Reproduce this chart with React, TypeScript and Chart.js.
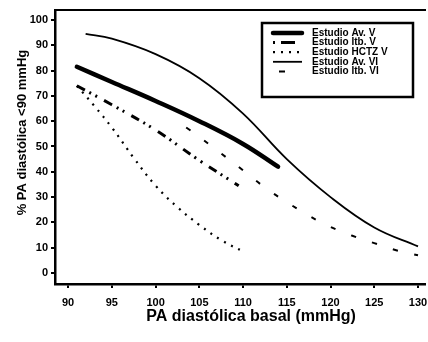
import { useEffect, useRef } from 'react';
import { Chart, registerables } from 'chart.js';

Chart.register(...registerables);

const SERIES_LABELS = ['Estudio Av. V', 'Estudio Itb. V', 'Estudio HCTZ V', 'Estudio Av. VI', 'Estudio Itb. VI'];

const AV_V_X = [91, 95, 100, 105, 110, 114];
const AV_V_Y = [81.5, 75.5, 68, 60, 51, 42];

const ITB_V_X = [91, 95, 100, 105, 109.5];
const ITB_V_Y = [74, 66.5, 56.5, 44.5, 34.5];

const HCTZ_V_X = [91, 93, 95, 97.5, 100, 102.5, 105, 107.5, 110];
const HCTZ_V_Y = [74, 66, 57.5, 45.5, 34.5, 26, 19, 13, 8.5];

const AV_VI_X = [92, 95, 100, 105, 110, 115, 120, 125, 130];
const AV_VI_Y = [94.5, 92.6, 86.5, 77, 63, 45, 30, 18, 10.5];

const ITB_VI_X = [103.5, 105, 107.5, 110, 112.5, 115, 117.5, 120, 122.5, 125, 127.5, 130];
const ITB_VI_Y = [57.5, 53.8, 47.2, 40.6, 33.8, 28, 22.7, 18.2, 14.7, 11.8, 9, 7];

const X_TICKS = [90, 95, 100, 105, 110, 115, 120, 125, 130];
const Y_TICKS = [0, 10, 20, 30, 40, 50, 60, 70, 80, 90, 100];

const X_TITLE = 'PA diastólica basal (mmHg)';
const Y_TITLE = '% PA diastólica <90 mmHg';

const FONT = '"Liberation Sans", Arial, Helvetica, sans-serif';

const pts = (xs: number[], ys: number[]) => xs.map((x, i) => ({ x, y: ys[i] }));

const legendBox = {
  id: 'legendBox',
  afterDatasetsDraw(chart: any) {
    const { ctx, chartArea } = chart;
    const w = 151;
    const h = 74;
    const x0 = chartArea.right - 12 - w;
    const y0 = chartArea.top + 13;
    ctx.save();
    ctx.fillStyle = '#fff';
    ctx.fillRect(x0, y0, w, h);
    ctx.lineWidth = 2.5;
    ctx.strokeStyle = '#000';
    ctx.setLineDash([]);
    ctx.strokeRect(x0, y0, w, h);
    chart.data.datasets.forEach((ds: any, i: number) => {
      const y = y0 + 10 + i * 9.6;
      ctx.beginPath();
      ctx.setLineDash(ds.legendDash || ds.borderDash || []);
      ctx.lineDashOffset = ds.legendDashOffset || 0;
      ctx.lineWidth = ds.borderWidth;
      ctx.lineCap = ds.borderCapStyle || 'butt';
      ctx.strokeStyle = '#000';
      ctx.moveTo(x0 + 11, y);
      ctx.lineTo(x0 + 40, y);
      ctx.stroke();
      ctx.setLineDash([]);
      ctx.fillStyle = '#000';
      ctx.font = `bold 10px ${FONT}`;
      ctx.textBaseline = 'middle';
      ctx.textAlign = 'left';
      ctx.fillText(ds.label, x0 + 50, y);
    });
    ctx.restore();
  },
};

export default function App() {
  const ref = useRef<HTMLCanvasElement | null>(null);

  useEffect(() => {
    if (!ref.current) return;
    Chart.defaults.font.family = FONT;
    Chart.defaults.color = '#000';
    const common = {
      borderColor: '#000',
      backgroundColor: '#000',
      pointRadius: 0,
      fill: false,
      tension: 0.4,
    };
    const noPad = (s: any) => { s.paddingLeft = 0; s.paddingRight = 0; s.paddingTop = 0; s.paddingBottom = 0; };
    const chart = new Chart(ref.current, {
      type: 'line',
      data: {
        datasets: [
          { ...common, label: SERIES_LABELS[0], data: pts(AV_V_X, AV_V_Y), borderWidth: 4.5, borderCapStyle: 'round' },
          { ...common, label: SERIES_LABELS[1], data: pts(ITB_V_X, ITB_V_Y), borderWidth: 3, borderDash: [9, 5, 2, 5, 2, 8], legendDash: [2, 6, 14, 20] },
          { ...common, label: SERIES_LABELS[2], data: pts(HCTZ_V_X, HCTZ_V_Y), borderWidth: 2.2, borderDash: [2, 6] },
          { ...common, label: SERIES_LABELS[3], data: pts(AV_VI_X, AV_VI_Y), borderWidth: 1.8 },
          { ...common, label: SERIES_LABELS[4], data: pts(ITB_VI_X, ITB_VI_Y), borderWidth: 2, borderDash: [5, 17], legendDash: [0, 6, 6, 40] },
        ] as any,
      },
      options: {
        animation: false,
        responsive: true,
        maintainAspectRatio: false,
        layout: { padding: { left: 0, right: 3, top: 10, bottom: 0 } },
        plugins: { legend: { display: false }, tooltip: { enabled: false } },
        scales: {
          x: {
            type: 'linear',
            position: 'bottom',
            min: 88.5,
            max: 130.8,
            afterFit: (s: any) => { s.height = 58; noPad(s); },
            afterBuildTicks: (s: any) => { s.ticks = X_TICKS.map((v) => ({ value: v })); },
            grid: { drawOnChartArea: false, drawTicks: true, tickLength: 4, color: '#000', lineWidth: 2 },
            border: { display: true, color: '#000', width: 2.5 },
            ticks: { font: { size: 11, weight: 'bold' }, color: '#000', padding: 8, maxRotation: 0 },
            title: { display: true, text: '     ' + X_TITLE, font: { size: 16, weight: 'bold' }, color: '#000', padding: { top: 0, bottom: 16 } },
          },
          x2: {
            type: 'linear',
            position: 'top',
            min: 88.5,
            max: 130.8,
            afterFit: (s: any) => { s.height = 0; noPad(s); },
            grid: { drawOnChartArea: false, drawTicks: false },
            border: { display: true, color: '#000', width: 2 },
            ticks: { display: false },
          },
          y: {
            type: 'linear',
            min: -4.35,
            max: 103.95,
            afterFit: (s: any) => { s.width = 55; noPad(s); },
            afterBuildTicks: (s: any) => { s.ticks = Y_TICKS.map((v) => ({ value: v })); },
            grid: { drawOnChartArea: false, drawTicks: true, tickLength: 4, color: '#000', lineWidth: 2 },
            border: { display: true, color: '#000', width: 2.5 },
            ticks: { font: { size: 11, weight: 'bold' }, color: '#000', padding: 3 },
            title: { display: true, text: '        ' + Y_TITLE, font: { size: 13, weight: 'bold' }, color: '#000', padding: { top: 15, bottom: 0 } },
          },
        },
      } as any,
      plugins: [legendBox],
    });
    return () => chart.destroy();
  }, []);

  return (
    <div style={{ position: 'fixed', left: 0, top: 0, width: 428, height: 342, background: '#fff' }}>
      <canvas ref={ref} />
    </div>
  );
}
